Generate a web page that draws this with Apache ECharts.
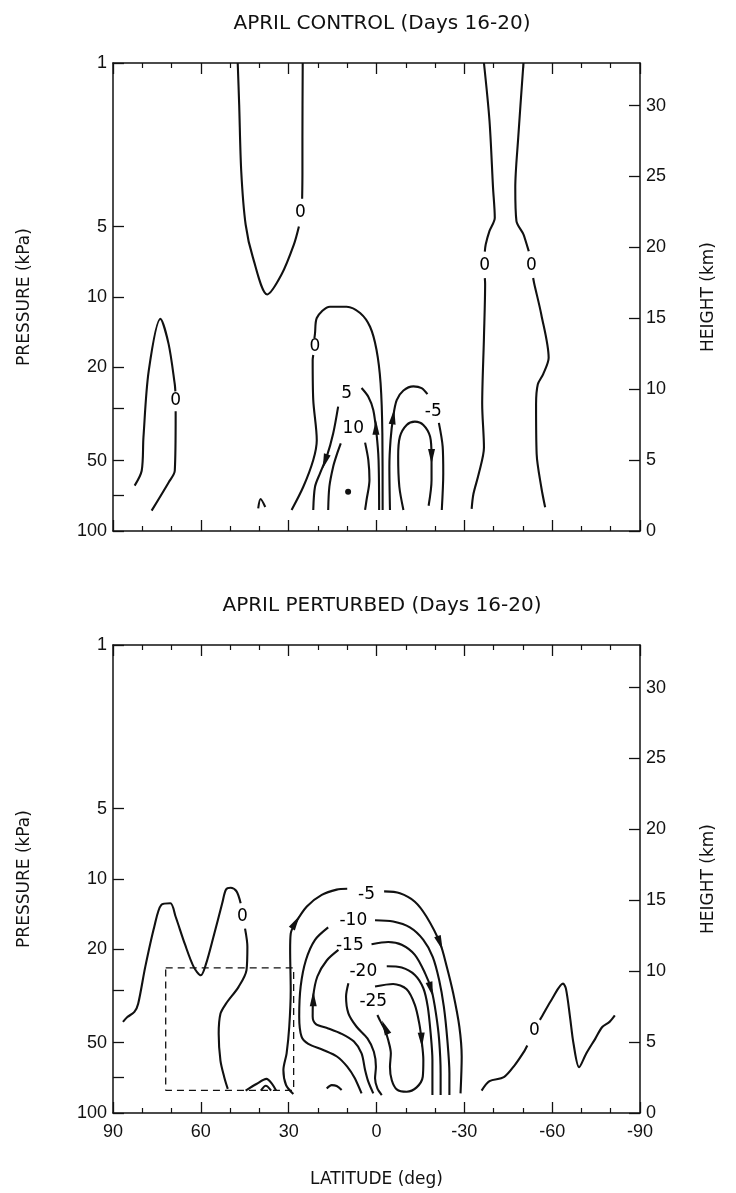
<!DOCTYPE html>
<html>
<head>
<meta charset="utf-8">
<script src="https://cdn.jsdelivr.net/npm/echarts@6/dist/echarts.min.js"></script>
<style>
  html, body { margin: 0; padding: 0; background: #fff; }
  #chart { width: 736px; height: 1193px; }
</style>
</head>
<body>
<div id="chart"></div>
<script>
// ---------- axes ----------
const latTicks = [90, 60, 30, 0, -30, -60, -90];
const pressureLabels = [1, 5, 10, 20, 50, 100];
const pressureTicks = [1, 5, 10, 20, 30, 50, 70, 100];
const heightTicks = [0, 5, 10, 15, 20, 25, 30];

const panelTitles = ['APRIL CONTROL (Days 16-20)', 'APRIL PERTURBED (Days 16-20)'];

// ---------- APRIL CONTROL: streamfunction contours, points are [latitude, pressure kPa] ----------
const ctrlZeroUpperA = [[47.4,1],[46.9,1.51],[46.2,2.9],[44.7,4.9],[42.2,6.79],[37.3,9.75],[32.4,8.0],[28.2,5.96],[26.5,5.0]];
const ctrlZeroUpperB = [[25.4,3.8],[25.3,3.0],[25.3,2.09],[25.2,1]];
const ctrlZeroPolarA = [[82.6,64],[80.2,55.3],[79.6,39.8],[77.8,20.7],[73.8,12.4],[71.0,15.9],[68.9,23.6],[68.7,25.3]];
const ctrlZeroPolarB = [[68.6,30.8],[68.6,32.2],[68.9,55.3],[71.0,62.0],[76.8,81.8]];
const ctrlCaret = [[40.4,80],[39.6,73],[38.0,79]];
const ctrlZeroCellA = [[29.0,81.3],[25.0,64.7],[21.6,49.7],[20.4,40.9],[21.6,27.6],[21.8,18.6],[21.6,17.7]];
const ctrlZeroCellB = [[21.2,15.0],[21.0,14.3],[20.4,12.3],[15.9,11.0],[10.2,11.0],[5.6,11.7],[2.2,13.4],[0.0,16.8],[-1.4,23.4],[-2.0,38.3],[-2.1,81.3]];
const ctrlFiveA = [[21.6,81.3],[21.0,64.7],[19.3,56.7],[17.0,48.1],[14.8,38.3],[13.1,29.4]];
const ctrlFiveB = [[5.1,24.5],[2.8,26.7],[1.1,30.4],[0.0,38.3],[-0.7,49.7],[-0.9,81.3]];
const ctrlTenA = [[16.5,81.3],[16.1,64.7],[14.8,53.1],[13.4,46.5],[12.2,42.2]];
const ctrlTenB = [[3.9,41.9],[2.8,49.7],[2.4,60.5],[3.4,73.7],[3.9,81.3]];
const ctrlMinusFiveA = [[-4.6,81.3],[-4.4,53.1],[-4.8,40.9],[-5.7,32.5],[-6.9,27.6],[-9.2,25.1],[-12.6,24.1],[-15.4,24.5],[-17.4,26.0]];
const ctrlMinusFiveB = [[-21.3,34.5],[-22.6,43.6],[-22.8,56.7],[-22.3,81.3]];
const ctrlMinusTen = [[-9.2,81.3],[-7.8,64.7],[-7.4,48.1],[-8.0,39.5],[-10.3,35.2],[-13.1,34.1],[-16.0,35.2],[-18.3,39.5],[-18.8,48.1],[-18.8,60.5],[-17.8,78]];
const ctrlZeroSouthA1 = [[-36.7,1],[-38.6,1.77],[-39.8,3.41],[-40.4,4.58],[-38.6,5.22],[-37.3,5.96],[-37.0,6.4]];
const ctrlZeroSouthA2 = [[-37.0,8.3],[-37.1,8.8],[-36.7,14.9],[-36.1,28.7],[-36.7,44.0],[-34.9,57.1],[-33.1,69.5],[-32.5,80.5]];
const ctrlZeroSouthB1 = [[-50.2,1],[-48.4,2.09],[-47.4,3.41],[-47.8,4.74],[-50.2,5.4],[-52.0,6.37]];
const ctrlZeroSouthB2 = [[-53.5,8.3],[-53.9,8.8],[-56.3,11.9],[-58.8,18.2],[-56.9,21.4],[-55.1,23.6],[-54.5,28.7],[-54.7,46.9],[-56.3,65.2],[-57.6,79.2]];
const ctrlLabels = [[26.0,4.37,'0'],[68.6,27.8,'0'],[21.0,16.3,'0'],[10.2,25.8,'5'],[7.9,36.4,'10'],[-19.4,30.9,'-5'],[-36.9,7.37,'0'],[-52.9,7.37,'0']];
const ctrlArrows = [[17.6,50.5,162],[0.2,36,0],[-5.7,32.5,-8],[-18.8,48.1,180]];
const ctrlMaxima = [[9.7,67.9]];

// ---------- APRIL PERTURBED ----------
const pertZeroWestA = [[86.6,40.8],[85.1,38.9],[82.7,37.0],[81.4,34.1],[79.0,23.8],[75.9,16.0],[73.5,12.9],[70.4,12.7],[68.6,14.5],[65.5,18.9],[62.4,23.8],[60.0,25.8],[58.2,23.0],[55.7,17.7],[52.7,12.7],[51.4,11.1],[49.8,10.9],[47.8,11.3],[46.4,12.7]];
const pertZeroWestB = [[44.9,16.3],[44.1,19.5],[44.4,24.5],[47.1,28.9],[51.4,34.1],[53.3,37.7],[53.9,45.8],[53.3,59.7],[52.0,70.3],[50.8,78.9]];
const pertBump = [[44.7,80.2],[41.0,75.2],[37.6,71.5],[35.5,75.6],[34.3,80.2]];
const pertBumpInner = [[39.5,80.2],[37.8,76.5],[36.0,80.2]];
const pertSmallArc = [[17.0,78.5],[15.3,76.0],[13.6,76.7],[11.9,79.8]];
const pertMinusFiveA = [[28.4,83.0],[30.9,75.9],[31.8,65.5],[30.7,55.6],[29.8,42.8],[29.3,29.8],[29.5,20.1],[29.3,17.1],[27.8,15.5],[23.8,13.1],[18.7,11.7],[13.6,11.1],[10.0,11.0]];
const pertMinusFiveB = [[-2.6,11.3],[-8.0,11.5],[-13.1,12.5],[-17.1,14.5],[-21.7,18.8],[-24.0,23.7],[-26.2,30.8],[-28.3,42.8],[-29.1,57.5],[-28.7,82.4]];
const pertMinusTenA = [[16.5,16.1],[21.0,18.2],[24.1,22.2],[25.9,28.8],[26.4,38.7],[25.6,47.2],[23.3,50.7],[18.2,53.8],[13.4,57.5],[10.0,63.4],[7.4,71.1],[5.1,82.4]];
const pertMinusTenB = [[0.5,15.0],[-5.7,15.2],[-11.4,16.1],[-16.0,18.2],[-19.2,21.5],[-21.4,27.0],[-23.0,35.1],[-24.2,48.8],[-24.9,67.6],[-24.9,83.8]];
const pertMinusFifteenA = [[13.0,20.1],[17.0,22.3],[20.2,26.1],[21.6,31.8],[21.8,38.7],[20.7,41.7],[16.5,43.5],[11.9,45.9],[7.7,49.5],[5.1,55.6],[3.9,65.5],[2.8,73.5],[1.1,82.4]];
const pertMinusFifteenB = [[1.7,19.0],[-4.0,18.6],[-8.6,19.1],[-13.1,21.1],[-16.6,25.3],[-18.8,29.8],[-20.3,37.5],[-21.4,48.8],[-21.9,67.6],[-21.9,83.8]];
const pertMinusTwentyA = [[9.6,27.9],[10.4,31.8],[9.6,37.5],[6.8,42.8],[3.1,48.0],[0.9,54.7],[0.2,63.4],[0.5,71.1],[-0.3,78.5],[-1.8,83.8]];
const pertMinusTwentyB = [[-3.5,23.6],[-8.6,23.9],[-13.1,25.7],[-16.0,29.3],[-17.5,35.1],[-18.5,45.7],[-19.1,59.4],[-19.1,83.8]];
const pertMinusTwentyFive = [[0.5,28.8],[-5.7,28.1],[-10.3,29.6],[-13.1,34.5],[-14.6,41.4],[-15.4,48.8],[-16.0,59.4],[-15.8,70.0],[-13.7,77.7],[-10.3,81.1],[-6.9,79.2],[-5.2,72.3],[-4.6,63.4],[-4.9,55.6],[-4.0,48.8],[-2.9,44.2],[-1.4,40.7],[-0.3,38.1]];
const pertZeroSouthA = [[-35.9,80.2],[-38.6,73.1],[-43.5,70.3],[-47.1,62.7],[-50.6,54.1],[-51.5,51.5]];
const pertZeroSouthB = [[-55.8,40.0],[-56.7,38.3],[-60.0,32.5],[-63.7,28.0],[-64.7,29.4],[-66.1,38.9],[-67.3,50.6],[-69.2,63.7],[-71.6,55.8],[-74.7,48.2],[-77.1,42.9],[-79.6,40.8],[-81.4,38.3]];
const pertBox = [[72,24],[28.3,24],[28.3,80],[72,80],[72,24]];
const pertLabels = [[45.8,14.5,'0'],[3.4,11.6,'-5'],[7.9,15.0,'-10'],[9.1,19.3,'-15'],[4.5,24.9,'-20'],[1.1,33.4,'-25'],[-53.9,44.4,'0']];
const pertArrows = [[27.6,15.3,-31],[-21.7,18.8,200],[21.6,32.5,0],[-18.6,29.6,195],[-2.9,43.0,24],[-15.4,48.8,183]];

// ---------- rendering ----------
const INK = '#111';
const SANS = "'DejaVu Sans', sans-serif";
const TICK_FONT = "'Liberation Sans', Arial, sans-serif";

const ctrlLines = [ctrlZeroUpperA, ctrlZeroUpperB, ctrlZeroPolarA, ctrlZeroPolarB, ctrlCaret,
  ctrlZeroCellA, ctrlZeroCellB, ctrlFiveA, ctrlFiveB, ctrlTenA, ctrlTenB,
  ctrlMinusFiveA, ctrlMinusFiveB, ctrlMinusTen,
  ctrlZeroSouthA1, ctrlZeroSouthA2, ctrlZeroSouthB1, ctrlZeroSouthB2];
const pertLines = [pertZeroWestA, pertZeroWestB, pertBump, pertBumpInner, pertSmallArc,
  pertMinusFiveA, pertMinusFiveB, pertMinusTenA, pertMinusTenB,
  pertMinusFifteenA, pertMinusFifteenB, pertMinusTwentyA, pertMinusTwentyB,
  pertMinusTwentyFive, pertZeroSouthA, pertZeroSouthB];

function contour(data, panel) {
  return {
    type: 'line', xAxisIndex: panel * 2, yAxisIndex: panel * 2,
    data: data, symbol: 'none', smooth: 0.3, silent: true,
    lineStyle: { color: INK, width: 2.1 }
  };
}
function labelSeries(labels, panel) {
  return {
    type: 'scatter', xAxisIndex: panel * 2, yAxisIndex: panel * 2,
    data: labels.map(l => ({ value: [l[0], l[1]], name: l[2] })),
    symbolSize: 1, itemStyle: { color: 'rgba(0,0,0,0)' }, silent: true,
    label: { show: true, position: 'inside', formatter: p => p.name,
      fontFamily: SANS, fontSize: 17, color: '#000', opacity: 1 }
  };
}
function arrowSeries(arrows, panel) {
  return {
    type: 'scatter', xAxisIndex: panel * 2, yAxisIndex: panel * 2,
    data: arrows.map(a => ({ value: [a[0], a[1]], symbolRotate: a[2] })),
    symbol: 'triangle', symbolSize: [7, 15], silent: true,
    itemStyle: { color: INK, opacity: 1 }
  };
}

function xAxes(panel) {
  const base = {
    gridIndex: panel, type: 'value', min: -90, max: 90, interval: 30, inverse: true,
    axisLine: { show: true, onZero: false, lineStyle: { color: INK, width: 1.5 } },
    axisTick: { show: true, inside: true, length: 11, lineStyle: { color: INK, width: 1.3 } },
    minorTick: { show: true, splitNumber: 3, length: 5, lineStyle: { color: INK, width: 1.2 } },
    splitLine: { show: false }, minorSplitLine: { show: false }
  };
  const bottom = Object.assign({}, base, {
    position: 'bottom',
    axisLabel: { show: panel === 1, margin: 10, fontFamily: TICK_FONT, fontSize: 18, color: INK },
    name: panel === 1 ? 'LATITUDE (deg)' : '', nameLocation: 'middle', nameGap: 58,
    nameTextStyle: { fontFamily: SANS, fontSize: 17, color: INK }
  });
  const top = Object.assign({}, base, { position: 'top', axisLabel: { show: false } });
  return [bottom, top];
}
function yAxes(panel) {
  const left = {
    gridIndex: panel, type: 'log', logBase: 10, min: 1, max: 100, inverse: true, position: 'left',
    axisLine: { show: true, onZero: false, lineStyle: { color: INK, width: 1.5 } },
    axisTick: { show: true, inside: true, length: 11, customValues: pressureTicks, lineStyle: { color: INK, width: 1.3 } },
    axisLabel: { customValues: pressureLabels, margin: 6, fontFamily: TICK_FONT, fontSize: 18, color: INK },
    minorTick: { show: false }, splitLine: { show: false },
    name: 'PRESSURE (kPa)', nameLocation: 'middle', nameGap: 80, nameRotate: 90,
    nameTextStyle: { fontFamily: SANS, fontSize: 17, color: INK }
  };
  const right = {
    gridIndex: panel, type: 'value', min: 0, max: 33, position: 'right',
    axisLine: { show: true, onZero: false, lineStyle: { color: INK, width: 1.5 } },
    axisTick: { show: true, inside: true, length: 11, customValues: heightTicks, lineStyle: { color: INK, width: 1.3 } },
    axisLabel: { customValues: heightTicks, margin: 6, fontFamily: TICK_FONT, fontSize: 18, color: INK },
    splitLine: { show: false },
    name: 'HEIGHT (km)', nameLocation: 'middle', nameGap: 60, nameRotate: 90,
    nameTextStyle: { fontFamily: SANS, fontSize: 17, color: INK }
  };
  return [left, right];
}

const series = [];
ctrlLines.forEach(d => series.push(contour(d, 0)));
series.push(labelSeries(ctrlLabels, 0));
series.push(arrowSeries(ctrlArrows, 0));
series.push({
  type: 'scatter', xAxisIndex: 0, yAxisIndex: 0, data: ctrlMaxima,
  symbol: 'circle', symbolSize: 6, itemStyle: { color: INK, opacity: 1 }, silent: true
});
pertLines.forEach(d => series.push(contour(d, 1)));
series.push({
  type: 'line', xAxisIndex: 2, yAxisIndex: 2, data: pertBox, symbol: 'none', silent: true,
  lineStyle: { color: INK, width: 1.3, type: [7, 5] }
});
series.push(labelSeries(pertLabels, 1));
series.push(arrowSeries(pertArrows, 1));

const chart = echarts.init(document.getElementById('chart'), null, { renderer: 'canvas' });
chart.setOption({
  animation: false,
  backgroundColor: '#fff',
  title: panelTitles.map((t, i) => ({
    text: t, left: 377, top: i === 0 ? 9 : 591, textAlign: 'center',
    textStyle: { fontFamily: SANS, fontSize: 20, fontWeight: 'normal', color: INK }
  })),
  grid: [
    { left: 113, top: 63, width: 527, height: 468 },
    { left: 113, top: 645, width: 527, height: 468 }
  ],
  xAxis: [].concat(xAxes(0), xAxes(1)),
  yAxis: [].concat(yAxes(0), yAxes(1)),
  series: series
});
</script>
</body>
</html>
